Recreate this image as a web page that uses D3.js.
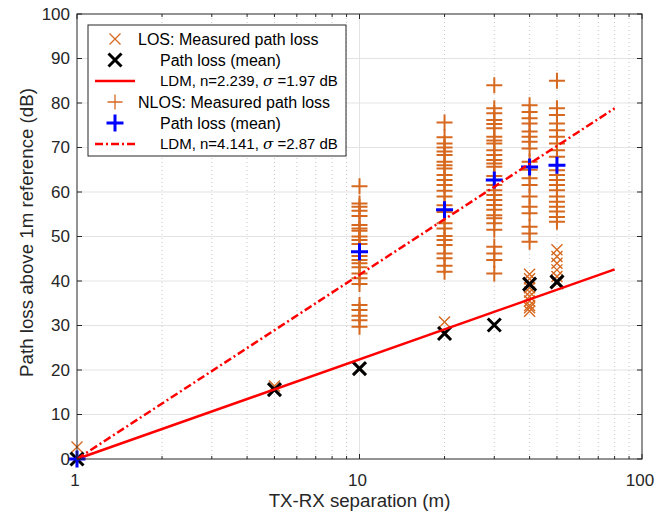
<!DOCTYPE html>
<html>
<head>
<meta charset="utf-8">
<script src="https://cdn.jsdelivr.net/npm/d3@7"></script>
<style>
  body { margin: 0; background: #fff; }
  svg { font-family: "Liberation Sans", Arial, sans-serif; }
</style>
</head>
<body>
<div id="app"></div>
<script>
// distances (m)
const distances = [1, 5, 10, 20, 30, 40, 50];

// LOS measured path loss per distance (dB)
const losMeasured = {
  1: [2.7, 0],
  5: [16.4],
  10: [20.5],
  20: [30.8, 28.5],
  30: [30.1],
  40: [41.5, 40.5, 39.5, 38.5, 37.5, 36.5, 35.5, 34.5, 34, 33.2],
  50: [47, 45.5, 44, 42.5, 41, 39.5]
};
const losMean = [0, 15.6, 20.3, 28.2, 30.1, 39.3, 39.8];

// NLOS measured path loss per distance (dB)
const nlosMeasured = {
  1: [0],
  10: [61.3, 57.4, 56.7, 55.8, 54.6, 52.6, 51.8, 51.3, 50, 49.2, 48.3, 45.6, 44.7, 44, 43.1,
       41.7, 40.6, 39.3, 34.6, 33.5, 32.2, 31.2, 29.7],
  20: [75.6, 72.3, 70.9, 70, 69.1, 68.3, 66.8, 66, 65.3, 63.8, 62.7, 61.6, 60.3, 59, 57, 55.5,
       53, 51.8, 50.1, 49.2, 48.1, 46.2, 45.1, 43.4, 42.1],
  30: [84, 78.8, 77.7, 76.2, 75.3, 74.3, 72.4, 71.6, 70.9, 69.4, 68.3, 67.2, 66.4, 65.7, 63.6,
       61.6, 60.4, 59.3, 58.2, 57.1, 56, 54.8, 54.1, 53, 51.5, 47.7, 46.2, 44.7, 41.7],
  40: [79.5, 78, 76.6, 75.4, 73.6, 72.4, 71.3, 69.8, 66.8, 65, 63.1, 61.6, 59, 56.7, 55.2,
       52.2, 50.7, 48.8],
  50: [85, 78.8, 77.3, 75.4, 73.9, 72.4, 70.9, 69.4, 67.9, 64.9, 63.8, 62.7, 61.6, 60.4, 59,
       57.8, 56.7, 55.6, 54.4, 53.3]
};
const nlosMeanDist = [1, 10, 20, 30, 40, 50];
const nlosMean = [0, 46.6, 56, 62.7, 65.6, 66];

// log-distance model exponents
const losN = 2.239;
const nlosN = 4.141;
const ldmRange = [1, 80];

const yTicks = d3.range(0, 101, 10);
const xMajor = [1, 10, 100];
const xMinor = [2, 3, 4, 5, 6, 7, 8, 9, 20, 30, 40, 50, 60, 70, 80, 90];

const legendItems = [
  { key: 'losPt', text: 'LOS: Measured path loss', indent: 0 },
  { key: 'losMean', text: 'Path loss (mean)', indent: 1 },
  { key: 'losLine', text: 'LDM, n=2.239, ', sigma: ' =1.97 dB', indent: 1 },
  { key: 'nlosPt', text: 'NLOS: Measured path loss', indent: 0 },
  { key: 'nlosMean', text: 'Path loss (mean)', indent: 1 },
  { key: 'nlosLine', text: 'LDM, n=4.141, ', sigma: ' =2.87 dB', indent: 1 }
];

const orange = '#d6691f';
const axisColor = '#262626';
const width = 672, height = 518;
const margin = { left: 77, right: 30, top: 14, bottom: 59 };

const svg = d3.select('#app').append('svg')
  .attr('width', width)
  .attr('height', height);

const x = d3.scaleLog().domain([1, 100]).range([margin.left, width - margin.right]);
const y = d3.scaleLinear().domain([0, 100]).range([height - margin.bottom, margin.top]);

const [x0, x1] = x.range();
const [y0, y1] = y.range();

// grid
const grid = svg.append('g');
grid.selectAll('.hgrid').data(yTicks.slice(1, -1)).enter().append('line')
  .attr('x1', x0).attr('x2', x1)
  .attr('y1', d => y(d)).attr('y2', d => y(d))
  .attr('stroke', '#e3e3e3').attr('stroke-width', 1);
grid.selectAll('.vgrid').data([10]).enter().append('line')
  .attr('x1', d => x(d)).attr('x2', d => x(d))
  .attr('y1', y0).attr('y2', y1)
  .attr('stroke', '#e3e3e3').attr('stroke-width', 1);
grid.selectAll('.vminor').data(xMinor).enter().append('line')
  .attr('x1', d => x(d)).attr('x2', d => x(d))
  .attr('y1', y0).attr('y2', y1)
  .attr('stroke', '#c8c8c8').attr('stroke-width', 1)
  .attr('stroke-dasharray', '1,3');

// marker paths
const xMark = s => `M${-s},${-s}L${s},${s}M${-s},${s}L${s},${-s}`;
const plusMark = s => `M${-s},0L${s},0M0,${-s}L0,${s}`;

const flatten = obj => Object.keys(obj).flatMap(k => obj[k].map(v => ({ d: +k, v })));

const plot = svg.append('g');

// LOS measured
plot.selectAll('.losPt').data(flatten(losMeasured)).enter().append('path')
  .attr('transform', p => `translate(${x(p.d)},${y(p.v)})`)
  .attr('d', xMark(5.5))
  .attr('stroke', orange).attr('stroke-width', 1.4).attr('fill', 'none');

// LOS mean
plot.selectAll('.losMean').data(losMean).enter().append('path')
  .attr('transform', (v, i) => `translate(${x(distances[i])},${y(v)})`)
  .attr('d', xMark(6.5))
  .attr('stroke', '#000').attr('stroke-width', 3).attr('fill', 'none');

const ldm = n => d3.line().x(d => x(d)).y(d => y(10 * n * Math.log10(d)));

// LOS LDM
plot.append('path')
  .attr('d', ldm(losN)(ldmRange))
  .attr('stroke', '#ff0000').attr('stroke-width', 2.5).attr('fill', 'none');

// NLOS measured
plot.selectAll('.nlosPt').data(flatten(nlosMeasured)).enter().append('path')
  .attr('transform', p => `translate(${x(p.d)},${y(p.v)})`)
  .attr('d', plusMark(8))
  .attr('stroke', orange).attr('stroke-width', 2).attr('fill', 'none');

// NLOS mean
plot.selectAll('.nlosMean').data(nlosMean).enter().append('path')
  .attr('transform', (v, i) => `translate(${x(nlosMeanDist[i])},${y(v)})`)
  .attr('d', plusMark(8.5))
  .attr('stroke', '#0000ff').attr('stroke-width', 3).attr('fill', 'none');

// NLOS LDM
plot.append('path')
  .attr('d', ldm(nlosN)(ldmRange))
  .attr('stroke', '#ff0000').attr('stroke-width', 2.5).attr('fill', 'none')
  .attr('stroke-dasharray', '8,3,2,3');

// axes box
svg.append('rect')
  .attr('x', x0).attr('y', y1)
  .attr('width', x1 - x0).attr('height', y0 - y1)
  .attr('fill', 'none').attr('stroke', axisColor).attr('stroke-width', 1);

const tickGroup = svg.append('g').attr('stroke', axisColor).attr('stroke-width', 1);
yTicks.forEach(t => {
  tickGroup.append('line').attr('x1', x0).attr('x2', x0 + 5).attr('y1', y(t)).attr('y2', y(t));
  tickGroup.append('line').attr('x1', x1).attr('x2', x1 - 5).attr('y1', y(t)).attr('y2', y(t));
});
xMajor.forEach(t => {
  tickGroup.append('line').attr('x1', x(t)).attr('x2', x(t)).attr('y1', y0).attr('y2', y0 - 5);
  tickGroup.append('line').attr('x1', x(t)).attr('x2', x(t)).attr('y1', y1).attr('y2', y1 + 5);
});
xMinor.forEach(t => {
  tickGroup.append('line').attr('x1', x(t)).attr('x2', x(t)).attr('y1', y0).attr('y2', y0 - 3);
  tickGroup.append('line').attr('x1', x(t)).attr('x2', x(t)).attr('y1', y1).attr('y2', y1 + 3);
});

svg.append('g').selectAll('text').data(yTicks).enter().append('text')
  .attr('x', x0 - 7).attr('y', d => y(d)).attr('dy', '0.35em')
  .attr('text-anchor', 'end').attr('font-size', 17).attr('fill', axisColor)
  .text(d => d);

svg.append('g').selectAll('text').data(xMajor).enter().append('text')
  .attr('x', d => x(d) - 2).attr('y', y0 + 27)
  .attr('text-anchor', 'middle').attr('font-size', 17).attr('fill', axisColor)
  .text(d => d);

svg.append('text')
  .attr('x', (x0 + x1) / 2).attr('y', height - 11)
  .attr('text-anchor', 'middle').attr('font-size', 18.7).attr('fill', axisColor)
  .text('TX-RX separation (m)');

svg.append('text')
  .attr('transform', `translate(33,${(y0 + y1) / 2 - 4}) rotate(-90)`)
  .attr('text-anchor', 'middle').attr('font-size', 18.7).attr('fill', axisColor)
  .text('Path loss above 1m reference (dB)');

// legend
const legend = svg.append('g').attr('transform', 'translate(88,25)');
legend.append('rect')
  .attr('width', 258).attr('height', 131)
  .attr('fill', '#fff').attr('stroke', axisColor).attr('stroke-width', 1);

const rowY = i => 14 + i * 21;
const symX = 27;
legendItems.forEach((item, i) => {
  const g = legend.append('g').attr('transform', `translate(0,${rowY(i)})`);
  if (item.key === 'losPt') {
    g.append('path').attr('transform', `translate(${symX},0)`).attr('d', xMark(5.5))
      .attr('stroke', orange).attr('stroke-width', 1.3).attr('fill', 'none');
  } else if (item.key === 'losMean') {
    g.append('path').attr('transform', `translate(${symX},0)`).attr('d', xMark(6.5))
      .attr('stroke', '#000').attr('stroke-width', 3).attr('fill', 'none');
  } else if (item.key === 'nlosPt') {
    g.append('path').attr('transform', `translate(${symX},0)`).attr('d', plusMark(7.5))
      .attr('stroke', orange).attr('stroke-width', 1.3).attr('fill', 'none');
  } else if (item.key === 'nlosMean') {
    g.append('path').attr('transform', `translate(${symX},0)`).attr('d', plusMark(8.5))
      .attr('stroke', '#0000ff').attr('stroke-width', 3).attr('fill', 'none');
  } else {
    g.append('line').attr('x1', 7).attr('x2', 47).attr('y1', 0).attr('y2', 0)
      .attr('stroke', '#ff0000').attr('stroke-width', 2.5)
      .attr('stroke-dasharray', item.key === 'nlosLine' ? '8,3,2,3' : null);
  }
  const t = g.append('text')
    .attr('x', item.indent ? 72 : 50).attr('dy', '0.35em')
    .attr('font-size', item.key.endsWith('Line') ? 15 : 16).attr('fill', '#000');
  t.append('tspan').text(item.text);
  if (item.sigma) {
    t.append('tspan').attr('font-style', 'italic').attr('font-family', '"DejaVu Serif", serif').text('σ');
    t.append('tspan').text(item.sigma);
  }
});
</script>
</body>
</html>
